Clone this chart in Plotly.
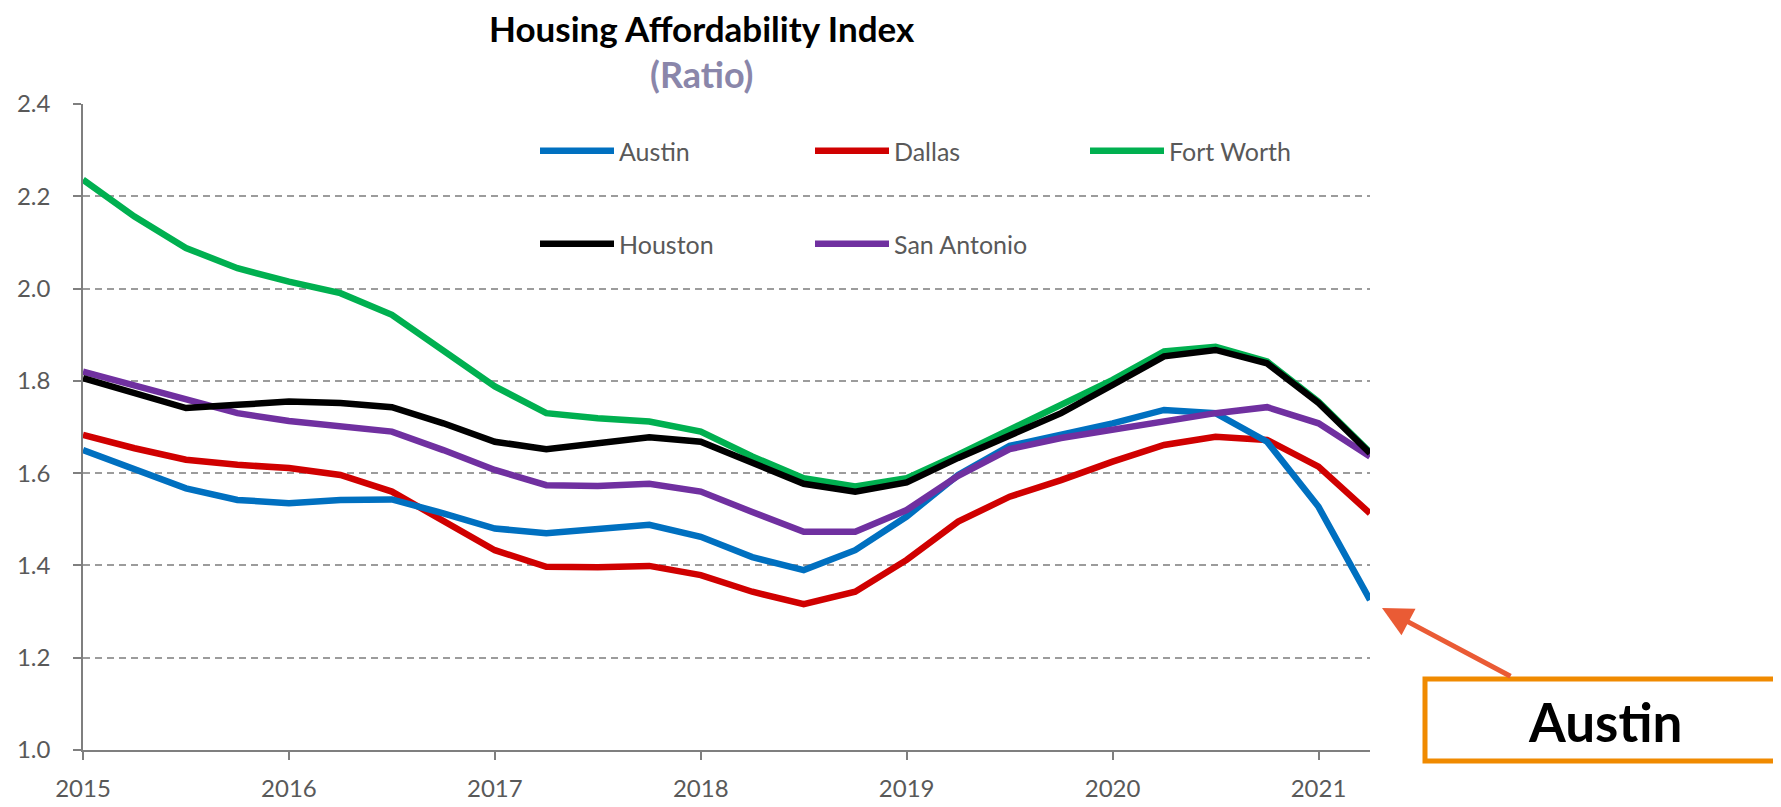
import plotly.graph_objects as go

# Quarterly observations, 2015 Q1 .. 2021 Q2 (decimal years)
quarters = [2015 + 0.25 * i for i in range(26)]

austin = [1.650, 1.607, 1.567, 1.542, 1.535, 1.542, 1.543, 1.513, 1.480, 1.470,
          1.480, 1.488, 1.462, 1.418, 1.390, 1.433, 1.506, 1.596, 1.659, 1.683,
          1.708, 1.737, 1.730, 1.668, 1.527, 1.325]
dallas = [1.683, 1.654, 1.629, 1.618, 1.611, 1.596, 1.560, 1.498, 1.433, 1.397,
          1.396, 1.399, 1.379, 1.343, 1.316, 1.343, 1.412, 1.495, 1.549, 1.585,
          1.625, 1.661, 1.679, 1.672, 1.614, 1.513]
fort_worth = [2.236, 2.156, 2.088, 2.044, 2.015, 1.990, 1.943, 1.867, 1.788, 1.730,
              1.719, 1.712, 1.690, 1.636, 1.589, 1.571, 1.589, 1.640, 1.694, 1.748,
              1.802, 1.864, 1.874, 1.842, 1.755, 1.645]
houston = [1.806, 1.773, 1.741, 1.748, 1.755, 1.752, 1.743, 1.708, 1.668, 1.652,
           1.665, 1.678, 1.668, 1.621, 1.577, 1.560, 1.580, 1.633, 1.681, 1.730,
           1.791, 1.853, 1.867, 1.838, 1.752, 1.643]
san_antonio = [1.820, 1.791, 1.759, 1.730, 1.713, 1.701, 1.690, 1.650, 1.607, 1.574,
               1.572, 1.577, 1.560, 1.516, 1.473, 1.473, 1.520, 1.594, 1.652, 1.676,
               1.694, 1.715, 1.730, 1.743, 1.708, 1.636]

year_ticks = [2015, 2016, 2017, 2018, 2019, 2020, 2021]
year_labels = ["2015", "2016", "2017", "2018", "2019", "2020", "2021"]
y_ticks = [1.0, 1.2, 1.4, 1.6, 1.8, 2.0, 2.2, 2.4]
y_labels = ["1.0", "1.2", "1.4", "1.6", "1.8", "2.0", "2.2", "2.4"]

series = [
    ("Austin", austin, "#0070C0", "legend"),
    ("Dallas", dallas, "#D00000", "legend"),
    ("Fort Worth", fort_worth, "#00B050", "legend"),
    ("Houston", houston, "#000000", "legend2"),
    ("San Antonio", san_antonio, "#7030A0", "legend2"),
]
draw_order = ["Fort Worth", "Dallas", "Austin", "San Antonio", "Houston"]
legend_rank = {"Austin": 1, "Dallas": 2, "Fort Worth": 3, "Houston": 4, "San Antonio": 5}

# the page body has an 8px margin: the figure's origin sits at page (8, 8)
OFF = 8
W, H = 1781 - OFF, 807 - OFF
L, T = 83 - OFF, 104 - OFF        # plot area left/top (figure px)
PW, PH = 1287, 646
R = W - L - PW
B = H - T - PH

fig = go.Figure()
lookup = {s[0]: s for s in series}
for name in draw_order:
    n, vals, col, lg = lookup[name]
    fig.add_trace(go.Scatter(
        x=quarters, y=vals, name=n, mode="lines",
        line=dict(color=col, width=6.5),
        legend=lg, legendrank=legend_rank[n],
    ))

FONT = "Lato"
TXT = "#595959"

def px_x(px):
    """page x -> paper x"""
    return (px - OFF - L) / PW

def px_y(py):
    """page y -> paper y"""
    return (T + PH - (py - OFF)) / PH

ITEMW = 74
legend_common = dict(
    orientation="h", xanchor="left", yanchor="middle",
    font=dict(family=FONT, size=25, color=TXT),
    bgcolor="rgba(0,0,0,0)", borderwidth=0,
    entrywidth=275 - ITEMW - 15, entrywidthmode="pixels", itemwidth=ITEMW,
    traceorder="normal",
)

fig.update_layout(
    width=W, height=H,
    margin=dict(l=L, r=R, t=T, b=B, autoexpand=False),
    paper_bgcolor="white", plot_bgcolor="white",
    showlegend=True,
    legend=dict(x=px_x(535), y=px_y(151), **legend_common),
    legend2=dict(x=px_x(535), y=px_y(244), **legend_common),
    xaxis=dict(
        range=[2015, 2021.25], tickmode="array", tickvals=year_ticks, ticktext=year_labels,
        showgrid=False, zeroline=False, showline=True, linecolor="#7F7F7F", linewidth=1.5,
        ticks="outside", ticklen=8, tickcolor="#7F7F7F", tickwidth=1.5,
        tickfont=dict(family=FONT, size=24, color=TXT), ticklabelstandoff=8,
    ),
    yaxis=dict(
        range=[1.0, 2.4], tickmode="array", tickvals=y_ticks, ticktext=y_labels,
        showgrid=True, gridcolor="#9C9C9C", gridwidth=1.5, griddash="7px,5px",
        zeroline=False, showline=True, linecolor="#7F7F7F", linewidth=1.5,
        ticks="outside", ticklen=8, tickcolor="#7F7F7F", tickwidth=1.5,
        tickfont=dict(family=FONT, size=24, color=TXT), ticklabelstandoff=18,
    ),
)

annotations = [
    dict(text="<b>Housing Affordability Index</b>", x=px_x(702), y=px_y(28),
         xref="paper", yref="paper", showarrow=False, xanchor="center", yanchor="middle",
         font=dict(family=FONT, size=35, color="#000000")),
    dict(text="<b>(Ratio)</b>", x=px_x(701), y=px_y(74),
         xref="paper", yref="paper", showarrow=False, xanchor="center", yanchor="middle",
         font=dict(family=FONT, size=36, color="#8A86AA")),
    # arrow pointing at the end of the Austin line
    dict(text="", x=px_x(1382), y=px_y(608), xref="paper", yref="paper",
         showarrow=True, ax=130, ay=69, axref="pixel", ayref="pixel",
         arrowhead=2, arrowsize=1.2, arrowwidth=5, arrowcolor="#EA5B35"),
    dict(text="<b>Austin</b>", x=px_x(1605), y=px_y(721), xref="paper", yref="paper",
         showarrow=False, xanchor="center", yanchor="middle",
         font=dict(family=FONT, size=53, color="#000000")),
]
fig.update_layout(annotations=annotations)

fig.add_shape(type="rect", xref="paper", yref="paper",
              x0=px_x(1425), x1=px_x(1800), y0=px_y(761), y1=px_y(679),
              line=dict(color="#F08A00", width=5), fillcolor="rgba(0,0,0,0)", layer="above")

fig.write_html("out.html")
